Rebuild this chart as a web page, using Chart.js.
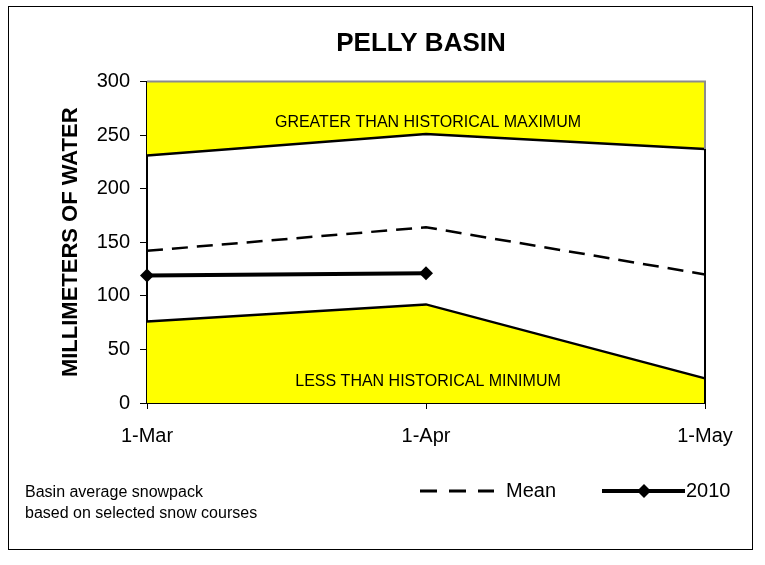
<!DOCTYPE html>
<html>
<head>
<meta charset="utf-8">
<script src="https://cdn.jsdelivr.net/npm/chart.js@4/dist/chart.umd.min.js"></script>
<style>
  html, body { margin: 0; padding: 0; background: #fff; }
  canvas { display: block; }
</style>
</head>
<body>
<canvas id="c" width="765" height="565"></canvas>
<script>
// ---- data ----
const categories = ['1-Mar', '1-Apr', '1-May'];
const maxValues = [231, 251, 237];
const meanValues = [142, 164, 120];
const minValues = [76, 92, 23];
const values2010 = [119, 121, null];
const seriesNames = ['Maximum', 'Mean', 'Minimum', '2010'];
const chartTitle = 'PELLY BASIN';
const yAxisTitle = 'MILLIMETERS OF WATER';
const regionLabels = ['GREATER THAN HISTORICAL MAXIMUM', 'LESS THAN HISTORICAL MINIMUM'];
const noteLines = ['Basin average snowpack', 'based on selected snow courses'];

const FONT = "'Liberation Sans', Arial, Helvetica, sans-serif";
const YELLOW = '#FFFF00';

const decor = {
  id: 'decor',
  afterDatasetsDraw(chart) {
    const { ctx, chartArea: a, scales } = chart;
    const ys = scales.y;
    ctx.save();
    // region labels
    ctx.fillStyle = '#000';
    ctx.font = '16px ' + FONT;
    ctx.textAlign = 'center';
    ctx.textBaseline = 'middle';
    const cx = (a.left + a.right) / 2 + 2;
    ctx.fillText(regionLabels[0], cx, ys.getPixelForValue(262));
    ctx.fillText(regionLabels[1], cx, ys.getPixelForValue(20));
    // gray frame top and right
    ctx.strokeStyle = '#8c8c8c';
    ctx.lineWidth = 2;
    ctx.beginPath();
    ctx.moveTo(a.left, a.top);
    ctx.lineTo(a.right, a.top);
    ctx.lineTo(a.right, ys.getPixelForValue(maxValues[maxValues.length - 1]));
    ctx.stroke();
    // black right edge of band
    ctx.strokeStyle = '#000';
    ctx.beginPath();
    ctx.moveTo(a.right, ys.getPixelForValue(maxValues[maxValues.length - 1]));
    ctx.lineTo(a.right, a.bottom);
    ctx.stroke();
    ctx.restore();
  },
  afterDraw(chart) {
    const { ctx } = chart;
    const ds = chart.data.datasets;
    ctx.save();
    // title
    ctx.fillStyle = '#000';
    ctx.font = 'bold 26px ' + FONT;
    ctx.textAlign = 'center';
    ctx.textBaseline = 'middle';
    ctx.fillText(chartTitle, 421, 44);
    // notes
    ctx.font = '16px ' + FONT;
    ctx.textAlign = 'left';
    ctx.textBaseline = 'alphabetic';
    ctx.fillText(noteLines[0], 25, 497);
    ctx.fillText(noteLines[1], 25, 518);
    // legend: Mean
    const ly = 491;
    const mean = ds[1];
    ctx.strokeStyle = mean.borderColor;
    ctx.lineWidth = 3;
    ctx.setLineDash([17, 12]);
    ctx.beginPath();
    ctx.moveTo(420, ly);
    ctx.lineTo(494, ly);
    ctx.stroke();
    ctx.setLineDash([]);
    ctx.font = '20px ' + FONT;
    ctx.textBaseline = 'middle';
    ctx.fillText(mean.label, 506, ly);
    // legend: 2010
    const d10 = ds[3];
    ctx.strokeStyle = d10.borderColor;
    ctx.lineWidth = d10.borderWidth;
    ctx.beginPath();
    ctx.moveTo(602, ly);
    ctx.lineTo(685, ly);
    ctx.stroke();
    const r = d10.pointRadius;
    ctx.fillStyle = d10.pointBackgroundColor;
    ctx.beginPath();
    ctx.moveTo(644, ly - r);
    ctx.lineTo(644 + r, ly);
    ctx.lineTo(644, ly + r);
    ctx.lineTo(644 - r, ly);
    ctx.closePath();
    ctx.fill();
    ctx.fillStyle = '#000';
    ctx.fillText(d10.label, 686, ly);
    // outer border
    ctx.strokeStyle = '#000';
    ctx.lineWidth = 1;
    ctx.strokeRect(8.5, 6.5, 744, 543);
    ctx.restore();
  }
};

new Chart(document.getElementById('c'), {
  type: 'line',
  data: {
    labels: categories,
    datasets: [
      {
        label: seriesNames[0], data: maxValues,
        borderColor: '#000', borderWidth: 2.5, pointRadius: 0,
        fill: 'end', backgroundColor: YELLOW, tension: 0, order: 3
      },
      {
        label: seriesNames[1], data: meanValues,
        borderColor: '#000', borderWidth: 2.5, borderDash: [16, 9], pointRadius: 0,
        fill: false, tension: 0, order: 2
      },
      {
        label: seriesNames[2], data: minValues,
        borderColor: '#000', borderWidth: 2.5, pointRadius: 0,
        fill: 'origin', backgroundColor: YELLOW, tension: 0, order: 3
      },
      {
        label: seriesNames[3], data: values2010,
        borderColor: '#000', borderWidth: 4,
        pointStyle: 'rectRot', pointRadius: 7, pointBackgroundColor: '#000', pointBorderColor: '#000', pointBorderWidth: 0,
        fill: false, tension: 0, clip: false, spanGaps: false, order: 1
      }
    ]
  },
  options: {
    responsive: false,
    devicePixelRatio: 1,
    animation: false,
    layout: { padding: { top: 81.5, right: 60, bottom: 102, left: 0 } },
    plugins: {
      legend: { display: false },
      title: { display: false },
      tooltip: { enabled: false }
    },
    scales: {
      x: {
        type: 'category',
        offset: false,
        grid: { drawOnChartArea: false, drawTicks: true, tickLength: 6, color: '#000', lineWidth: 1 },
        border: { display: true, color: '#000', width: 2 },
        ticks: { color: '#000', font: { family: FONT, size: 20 }, padding: 15, maxRotation: 0, autoSkip: false },
        afterFit(scale) { scale.height = 60; }
      },
      y: {
        min: 0, max: 300,
        grid: { drawOnChartArea: false, drawTicks: true, tickLength: 7, color: '#000', lineWidth: 1 },
        border: { display: true, color: '#000', width: 2 },
        ticks: { stepSize: 50, color: '#000', font: { family: FONT, size: 20 }, padding: 10 },
        title: {
          display: true, text: yAxisTitle, color: '#000',
          font: { family: FONT, size: 22, weight: 'bold' },
          padding: { top: 58, bottom: 0 }
        },
        afterFit(scale) { scale.width = 147; }
      }
    }
  },
  plugins: [decor]
});
</script>
</body>
</html>
